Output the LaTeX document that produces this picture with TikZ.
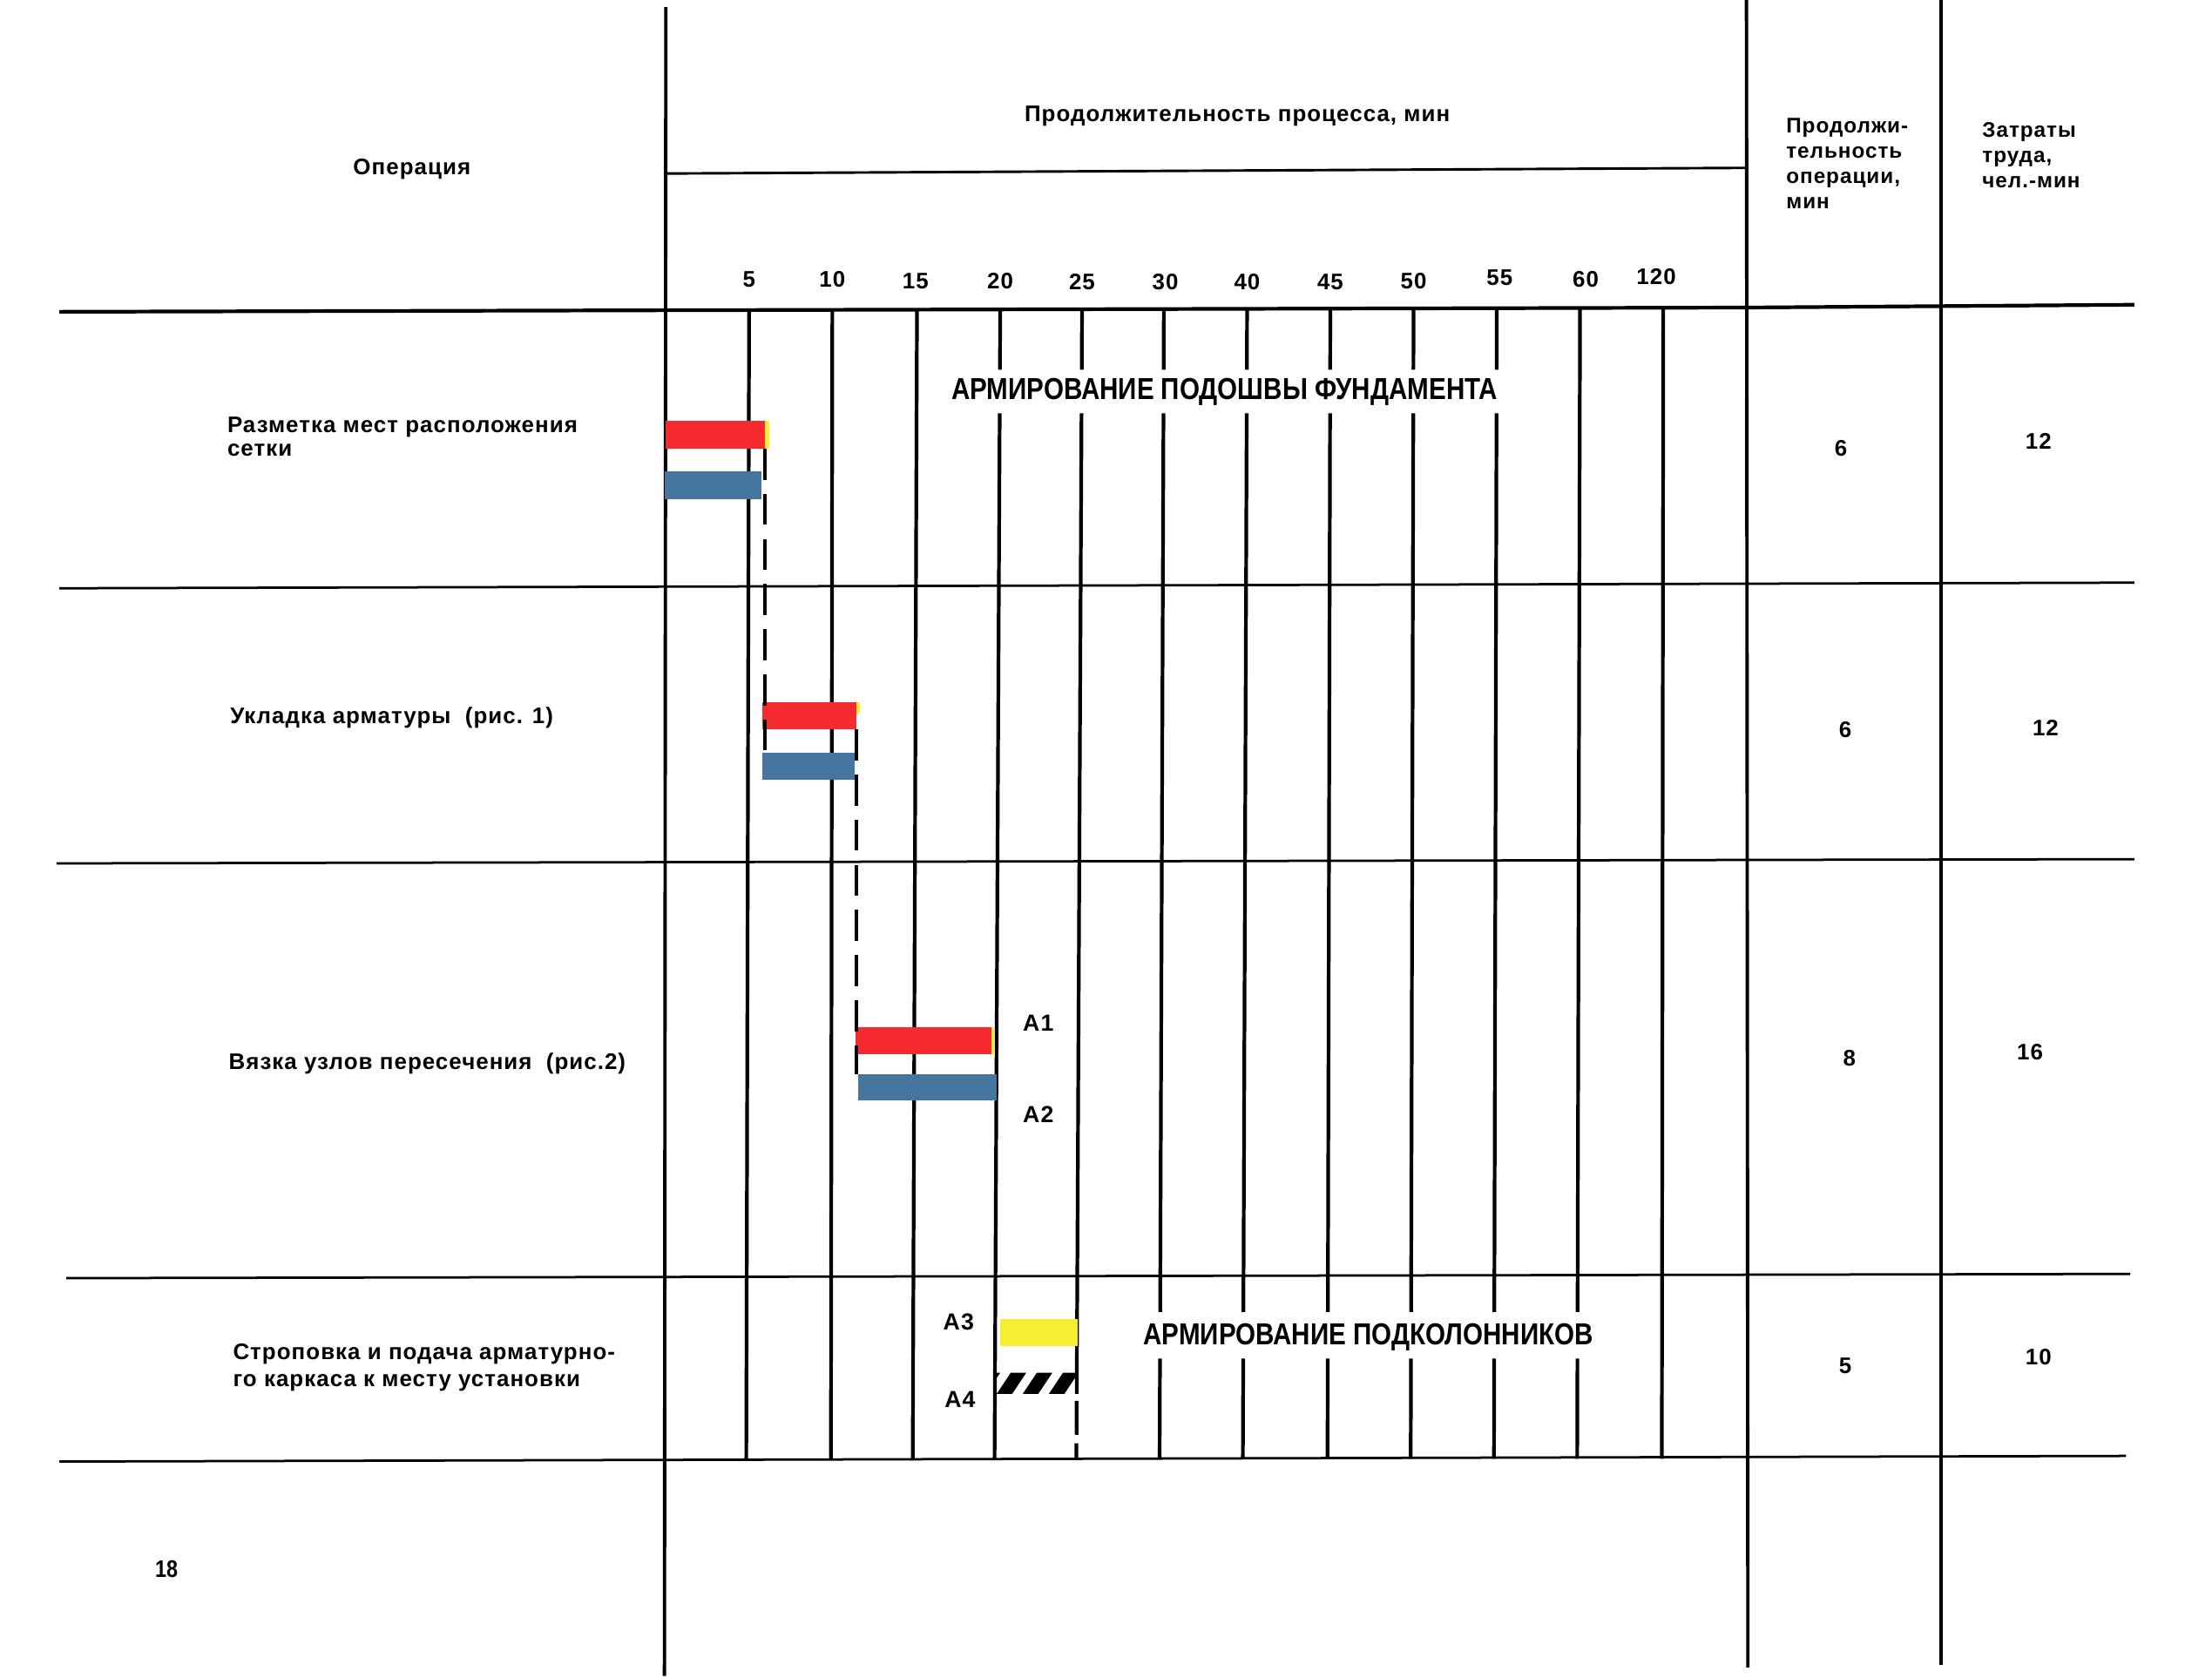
\documentclass[tikz,border=0pt]{standalone}
\usepackage{fontspec}
\setmainfont{Liberation Sans}
\newfontfamily\lblf{Liberation Sans}[LetterSpace=4]
\newfontfamily\condf{Liberation Sans}[FakeStretch=0.85]
\usetikzlibrary{calc}
\definecolor{barred}{RGB}{245,42,46}
\definecolor{barblue}{RGB}{68,118,160}
\definecolor{baryel}{RGB}{246,238,48}
\begin{document}
\begin{tikzpicture}[x=1pt,y=-1pt,
  gridv/.style={line width=2.6pt,black},
  frame/.style={line width=2.4pt,black},
  rowline/.style={line width=1.7pt,black},
  dashlink/.style={line width=2.6pt,black,dash pattern=on 22pt off 10pt},
  txt/.style={font=\lblf\bfseries\fontsize{16}{17}\selectfont,inner sep=0pt},
  smalltxt/.style={font=\lblf\bfseries\fontsize{15}{18}\selectfont,inner sep=0pt,align=left},
  numtxt/.style={font=\lblf\bfseries\fontsize{16}{17}\selectfont,inner sep=0pt},
  alabel/.style={font=\lblf\bfseries\fontsize{16.5}{17}\selectfont,inner sep=0pt},
  caps/.style={font=\condf\bfseries\fontsize{21.5}{24}\selectfont,inner sep=0pt},
  bar/.style={inner sep=0pt,outer sep=0pt,draw=none,anchor=north west},
  redbar/.style={bar,fill=barred},
  bluebar/.style={bar,fill=barblue},
  yelbar/.style={bar,fill=baryel}]
\useasboundingbox[fill=white] (0,0) rectangle (1568,1189);

% ---------- frame coordinates
\coordinate (vLt) at (472,5);   \coordinate (vLb) at (471,1188);
\coordinate (vRt) at (1238,0);  \coordinate (vRb) at (1239,1182);
\coordinate (vCt) at (1376,0);  \coordinate (vCb) at (1376,1180);
\coordinate (hdA) at (472,123); \coordinate (hdB) at (1238,119);
\coordinate (h0a) at (42,221);  \coordinate (h0b) at (1238,218); \coordinate (h0c) at (1513,216);
\coordinate (h1a) at (42,417);  \coordinate (h1b) at (1513,413);
\coordinate (h2a) at (40,612);  \coordinate (h2b) at (1513,609);
\coordinate (h3a) at (47,906);  \coordinate (h3b) at (1510,903);
\coordinate (h4a) at (42,1036); \coordinate (h4b) at (1507,1032);

\draw[frame] (vLt) -- (vLb);
\draw[frame] (vRt) -- (vRb);
\draw[frame] (vCt) -- (vCb);
\draw[line width=1.8pt] (hdA) -- (hdB);
\draw[line width=2.6pt] (h0a) -- (h0b) -- (h0c);
\draw[rowline] (h1a) -- (h1b);
\draw[rowline] (h2a) -- (h2b);
\draw[rowline] (h3a) -- (h3b);
\draw[rowline] (h4a) -- (h4b);

% ---------- time grid
\foreach \i/\xt/\xb in {1/531/529,2/590/589,3/650/647,4/709/705,5/767/763,6/825/822,
                        7/884/881,8/943/941,9/1002/1000,10/1061/1059,11/1120/1118,12/1179/1178}{
  \coordinate (gT\i) at (\xt,219);
  \coordinate (gB\i) at (\xb,1034);
}
\foreach \i in {1,2,3,12}{ \draw[gridv] (gT\i) -- (gB\i); }
\draw[gridv] (gT4) -- ($(gT4)!0.0528!(gB4)$) ($(gT4)!0.0908!(gB4)$) -- (gB4);
\draw[gridv] (gT5) -- ($(gT5)!0.0528!(gB5)$) ($(gT5)!0.0908!(gB5)$) -- ($(gT5)!0.9436!(gB5)$)
             ($(gT5)!0.9497!(gB5)$) -- ($(gT5)!0.9791!(gB5)$) ($(gT5)!0.9865!(gB5)$) -- (gB5);
\foreach \i in {6,7,8,9,10}{
  \draw[gridv] (gT\i) -- ($(gT\i)!0.0528!(gB\i)$) ($(gT\i)!0.0908!(gB\i)$) -- ($(gT\i)!0.8724!(gB\i)$)
               ($(gT\i)!0.9129!(gB\i)$) -- (gB\i);
}
\draw[gridv] (gT11) -- ($(gT11)!0.8724!(gB11)$) ($(gT11)!0.9129!(gB11)$) -- (gB11);

% ---------- header texts
\node[txt] (hOp) at (292,120) {Операция};
\node[txt] (hProc) at (877,82) {Продолжительность процесса, мин};
\node[smalltxt,anchor=west] (hDur) at (1266,116) {Продолжи-\\тельность\\операции,\\мин};
\node[smalltxt,anchor=west] (hLab) at (1405,110) {Затраты\\труда,\\чел.-мин};

\foreach \n/\x/\y in {5/531/198,10/590/198,15/649/199,20/709/199,25/767/200,30/826/200,
                      40/884/200,45/943/200,50/1002/199,55/1063/197,60/1124/198,120/1174/196}{
  \node[numtxt] (t\n) at (\x,\y) {\n};
}

% ---------- row labels
\node[txt,anchor=west,align=left] (op1) at (161,309.5) {Разметка мест расположения\\сетки};
\node[txt,anchor=west] (op2) at (163,509) {Укладка арматуры\hspace{5pt} (рис. 1)};
\node[txt,anchor=west] (op3) at (162,754) {Вязка узлов пересечения\hspace{5pt} (рис.2)};
\node[txt,anchor=west,align=left,font=\lblf\bfseries\fontsize{16}{19}\selectfont] (op4) at (165,969.5)
  {Строповка и подача арматурно-\\го каркаса к месту установки};

\node[caps] (cap1) at (868,278) {АРМИРОВАНИЕ ПОДОШВЫ ФУНДАМЕНТА};
\node[caps] (cap2) at (970,948) {АРМИРОВАНИЕ ПОДКОЛОННИКОВ};

% ---------- right values
\node[numtxt] (d1) at (1305,318) {6};   \node[numtxt] (l1) at (1445,313) {12};
\node[numtxt] (d2) at (1308,517) {6};   \node[numtxt] (l2) at (1450,516) {12};
\node[numtxt] (d3) at (1311,750) {8};   \node[numtxt] (l3) at (1439,746) {16};
\node[numtxt] (d4) at (1308,968) {5};   \node[numtxt] (l4) at (1445,962) {10};

\node[font=\condf\bfseries\fontsize{17}{18}\selectfont,inner sep=0pt] (page) at (118,1112) {18};

% ---------- bars
\node[redbar,minimum width=70pt,minimum height=20pt] (r1) at (472,298) {};
\node[yelbar,minimum width=3pt,minimum height=20pt] (y1) at (542,298) {};
\node[bluebar,minimum width=68.5pt,minimum height=20pt] (b1) at (471.5,334) {};

\node[redbar,minimum width=66.5pt,minimum height=19pt] (r2) at (540.5,498) {};
\node[yelbar,minimum width=2.5pt,minimum height=8pt] (y2) at (607,498) {};
\node[bluebar,minimum width=65.5pt,minimum height=19.5pt] (b2) at (540.5,533.5) {};

\node[redbar,minimum width=97.5pt,minimum height=19.5pt] (r3) at (606.5,728) {};
\node[yelbar,minimum width=1.5pt,minimum height=19.5pt] (y3) at (703,728) {};
\node[bluebar,minimum width=98pt,minimum height=18.5pt] (b3) at (608.5,761.5) {};

\node[yelbar,minimum width=55pt,minimum height=19pt] (y4) at (709,935) {};

% hatched bar A4
\coordinate (hatchNW) at (706,973);
\coordinate (hatchSE) at (764,988);
\begin{scope}
  \clip (hatchNW) rectangle (hatchSE);
  \foreach \s in {688,706.5,725,743.5}{
    \fill[black] (\s,988) -- ++(11,0) -- ++(10,-15) -- ++(-11,0) -- cycle;
  }
\end{scope}

% ---------- dashed links
\draw[dashlink] (r1.south east) -- (r1.south east |- b2.north);
\draw[dashlink] (r2.south east) -- (r2.south east |- b3.north);

% ---------- bar labels
\node[alabel] (A1) at (736,725) {А1};
\node[alabel] (A2) at (736,790) {А2};
\node[alabel] (A3) at (679.5,937) {А3};
\node[alabel] (A4) at (680.5,992) {А4};
\end{tikzpicture}
\end{document}
